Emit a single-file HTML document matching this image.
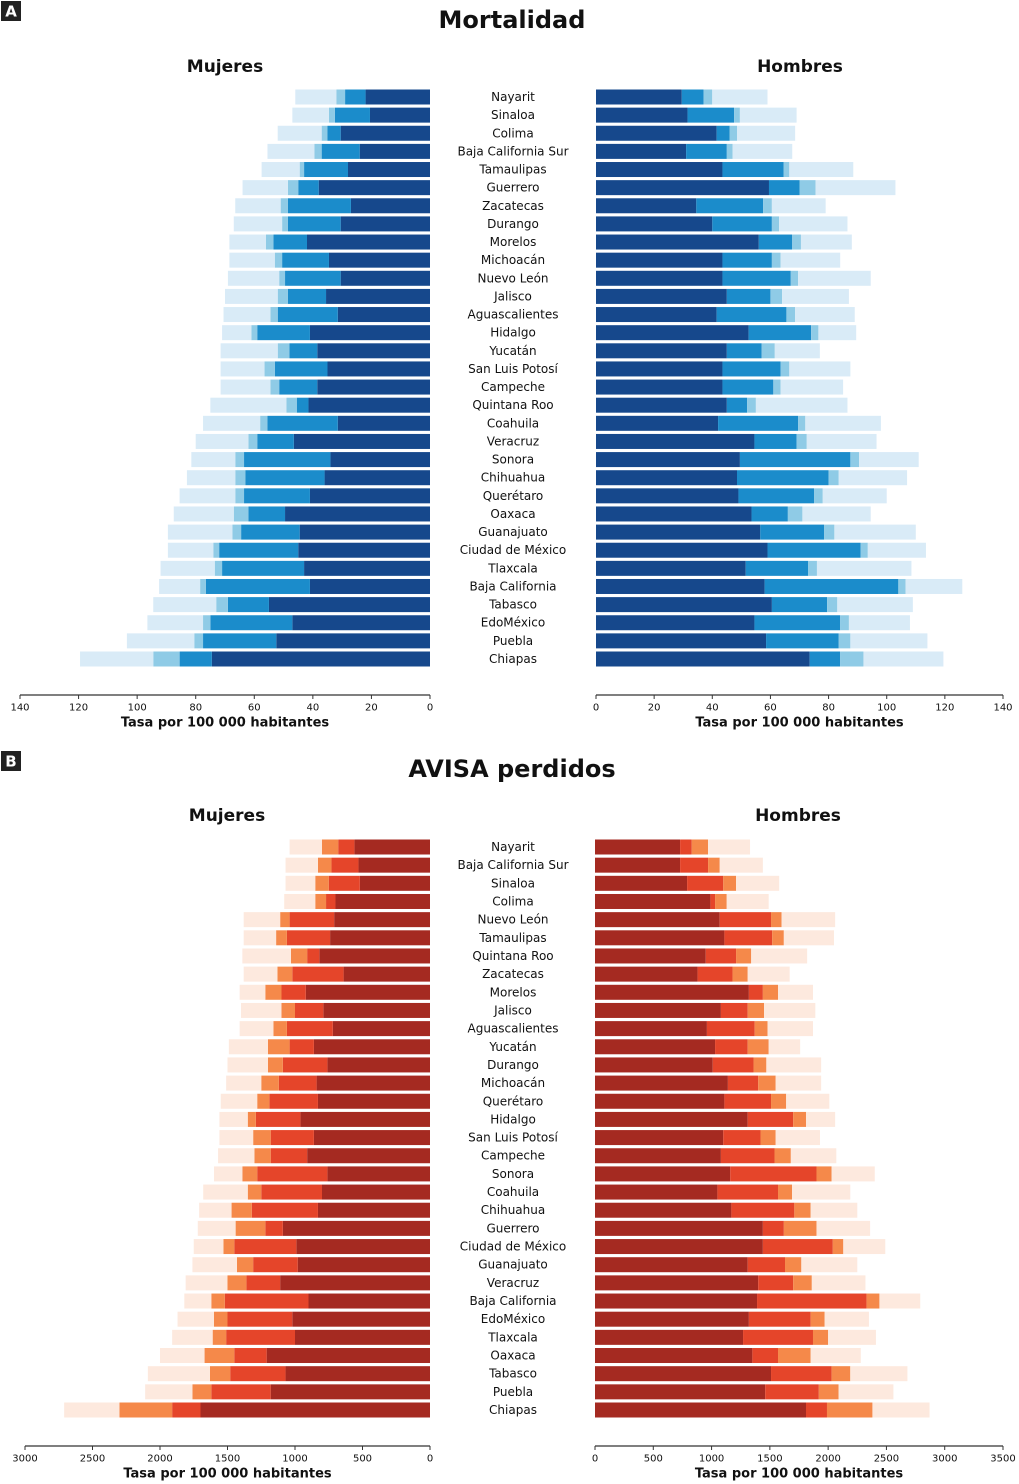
<!DOCTYPE html>
<html><head><meta charset="utf-8"><style>
html,body{margin:0;padding:0;background:#fff;}
svg{display:block;font-family:"DejaVu Sans","Liberation Sans",sans-serif;}
</style></head><body>
<svg id="chart" width="1019" height="1484" viewBox="0 0 1019 1484" xmlns="http://www.w3.org/2000/svg"></svg>
<script>
const statesA = ["Nayarit","Sinaloa","Colima","Baja California Sur","Tamaulipas","Guerrero","Zacatecas","Durango","Morelos","Michoacán","Nuevo León","Jalisco","Aguascalientes","Hidalgo","Yucatán","San Luis Potosí","Campeche","Quintana Roo","Coahuila","Veracruz","Sonora","Chihuahua","Querétaro","Oaxaca","Guanajuato","Ciudad de México","Tlaxcala","Baja California","Tabasco","EdoMéxico","Puebla","Chiapas"];
const mortMujS1 = [22,20.5,30.5,24,28,38,27,30.5,42,34.5,30.5,35.5,31.5,41,38.5,35,38.5,41.5,31.5,46.5,34,36,41,49.5,44.5,45,43,41,55,47,52.5,74.5];
const mortMujS2 = [7,12,4.5,13,15,7,21.5,18,11.5,16,19,13,20.5,18,9.5,18,13,4,24,12.5,29.5,27,22.5,12.5,20,27,28,35.5,14,28,25,11];
const mortMujS3 = [3,2,2,2.5,1.5,3.5,2.5,2,2.5,2.5,2,3.5,2.5,2,4,3.5,3,3.5,2.5,3,3,3.5,3,5,3,2,2.5,2,4,2.5,3,9];
const mortMujS4 = [14,12.5,15,16,13,15.5,15.5,16.5,12.5,15.5,17.5,18,16,10,19.5,15,17,26,19.5,18,15,16.5,19,20.5,22,15.5,18.5,14,21.5,19,23,25];
const mortHomS1 = [29.5,31.5,41.5,31,43.5,59.5,34.5,40,56,43.5,43.5,45,41.5,52.5,45,43.5,43.5,45,42,54.5,49.5,48.5,49,53.5,56.5,59,51.5,58,60.5,54.5,58.5,73.5];
const mortHomS2 = [7.5,16,4.5,14,21,10.5,23,20.5,11.5,17,23.5,15,24,21.5,12,20,17.5,7,27.5,14.5,38,31.5,26,12.5,22,32,21.5,46,19,29.5,25,10.5];
const mortHomS3 = [3,2,2.5,2,2,5.5,3,2.5,3,3,2.5,4,3,2.5,4.5,3,2.5,3,2.5,3.5,3,3.5,3,5,3.5,2.5,3,2.5,3.5,3,4,8];
const mortHomS4 = [19,19.5,20,20.5,22,27.5,18.5,23.5,17.5,20.5,25,23,20.5,13,15.5,21,21.5,31.5,26,24,20.5,23.5,22,23.5,28,20,32.5,19.5,26,21,26.5,27.5];
const ticksA = [0,20,40,60,80,100,120,140];

const statesB = ["Nayarit","Baja California Sur","Sinaloa","Colima","Nuevo León","Tamaulipas","Quintana Roo","Zacatecas","Morelos","Jalisco","Aguascalientes","Yucatán","Durango","Michoacán","Querétaro","Hidalgo","San Luis Potosí","Campeche","Sonora","Coahuila","Chihuahua","Guerrero","Ciudad de México","Guanajuato","Veracruz","Baja California","EdoMéxico","Tlaxcala","Oaxaca","Tabasco","Puebla","Chiapas"];
const avisaMujS1 = [560,530,520,700,710,740,820,640,920,790,720,860,760,840,830,960,860,910,760,800,830,1090,990,980,1110,900,1020,1000,1210,1070,1180,1700];
const avisaMujS2 = [120,200,230,70,330,320,90,380,180,210,340,180,330,280,360,330,320,270,520,450,490,130,460,330,250,620,480,510,240,410,440,210];
const avisaMujS3 = [120,100,100,80,70,80,120,110,120,100,100,160,110,130,90,60,130,120,110,100,150,220,80,120,140,100,100,100,220,150,140,390];
const avisaMujS4 = [240,240,220,230,270,240,360,250,190,300,250,290,300,260,270,210,250,270,210,330,240,280,220,330,310,200,270,300,330,460,350,410];
const avisaHomS1 = [730,730,790,990,1070,1110,950,880,1320,1080,960,1030,1010,1140,1110,1310,1100,1080,1160,1050,1170,1440,1440,1310,1400,1390,1320,1270,1350,1510,1460,1810];
const avisaHomS2 = [100,240,310,40,440,410,260,300,120,230,410,280,350,260,400,390,320,460,740,520,540,180,600,320,300,940,530,600,220,520,460,180];
const avisaHomS3 = [140,100,110,100,90,100,130,130,130,140,110,180,110,150,130,110,130,140,130,120,140,280,90,140,160,110,120,130,280,160,170,390];
const avisaHomS4 = [360,370,370,360,460,430,480,360,300,440,390,270,470,390,370,250,380,390,370,500,400,460,360,480,460,350,380,410,430,490,470,490];
const ticksBL = [0,500,1000,1500,2000,2500,3000];
const ticksBR = [0,500,1000,1500,2000,2500,3000,3500];

const NS = "http://www.w3.org/2000/svg";
const svg = document.getElementById("chart");
function mk(tag, attrs, parent){
  const e = document.createElementNS(NS, tag);
  for (const k in attrs) e.setAttribute(k, attrs[k]);
  (parent||svg).appendChild(e);
  return e;
}
function txt(x,y,s,size,weight,anchor,parent){
  const t = mk("text",{x:x,y:y,"font-size":size,"font-weight":weight,"text-anchor":anchor,"dominant-baseline":"central",fill:"#111"},parent);
  t.textContent = s;
  return t;
}

function panelLetter(y, letter){
  const g = mk("g",{});
  
  
  mk("rect",{x:1,y:y,width:20,height:20,fill:"#222"},g);
  const t = txt(11,y+10.5,letter,15,"bold","middle",g);
  t.setAttribute("fill","#fff");
}

function drawSide(cfg){
  const g = mk("g",{});
  
  
  const scale = v => cfg.dir > 0 ? cfg.x0 + (v / cfg.max) * cfg.w : cfg.x0 - (v / cfg.max) * cfg.w;
  const step = (cfg.yLast - cfg.yFirst) / (cfg.states.length - 1);
  const bh = 15;
  cfg.states.forEach((s, i) => {
    let cum = 0;
    const yc = cfg.yFirst + i * step;
    cfg.series.forEach((arr, k) => {
      const a = scale(cum), b = scale(cum + arr[i]);
      const r = mk("rect",{x:Math.min(a,b),y:yc-bh/2,width:Math.abs(b-a),height:bh,fill:cfg.colors[k]},g);
      
      
      cum += arr[i];
    });
  });
  const ax = mk("g",{}, g);
  
  
  const xEnd = scale(cfg.max);
  mk("line",{x1:Math.min(cfg.x0,xEnd),x2:Math.max(cfg.x0,xEnd),y1:cfg.axisY,y2:cfg.axisY,stroke:"#333","stroke-width":1.2},ax);
  cfg.ticks.forEach(t => {
    const x = scale(t);
    mk("line",{x1:x,x2:x,y1:cfg.axisY,y2:cfg.axisY+4,stroke:"#333","stroke-width":1},ax);
    const lb = txt(x,cfg.axisY+13,String(t),10,"normal","middle",ax);
    
    
  });
  const at = txt((cfg.x0+xEnd)/2, cfg.axisY+28, "Tasa por 100 000 habitantes", 13, "bold", "middle", ax);
  
  
  const st = txt(cfg.titleX, cfg.titleY, cfg.title, 17, "bold", "middle", g);
  
  
}

function drawLabels(states, yFirst, yLast, name){
  const g = mk("g",{});
  
  
  const step = (yLast - yFirst) / (states.length - 1);
  states.forEach((s,i) => {
    const t = txt(513, yFirst + i*step, s, 12, "normal", "middle", g);
    
    
  });
}

const blues = ["#16488c","#1b8ccb","#8fcbe6","#d9ebf7"];
const reds = ["#a52a21","#e5452a","#f5894a","#fde9de"];

panelLetter(1,"A");
let tA = txt(512,20,"Mortalidad",24,"bold","middle");
 
drawSide({name:"mortalidad-mujeres",x0:430,w:410,max:140,dir:-1,states:statesA,yFirst:97,yLast:659,series:[mortMujS1,mortMujS2,mortMujS3,mortMujS4],colors:blues,axisY:695,ticks:ticksA,title:"Mujeres",titleX:225,titleY:67});
drawSide({name:"mortalidad-hombres",x0:596,w:407,max:140,dir:1,states:statesA,yFirst:97,yLast:659,series:[mortHomS1,mortHomS2,mortHomS3,mortHomS4],colors:blues,axisY:695,ticks:ticksA,title:"Hombres",titleX:800,titleY:67});
drawLabels(statesA,97,659,"state-labels-a");

panelLetter(751,"B");
let tB = txt(512,769,"AVISA perdidos",24,"bold","middle");
 
drawSide({name:"avisa-mujeres",x0:430,w:405,max:3000,dir:-1,states:statesB,yFirst:847,yLast:1410,series:[avisaMujS1,avisaMujS2,avisaMujS3,avisaMujS4],colors:reds,axisY:1446,ticks:ticksBL,title:"Mujeres",titleX:227,titleY:816});
drawSide({name:"avisa-hombres",x0:595,w:408,max:3500,dir:1,states:statesB,yFirst:847,yLast:1410,series:[avisaHomS1,avisaHomS2,avisaHomS3,avisaHomS4],colors:reds,axisY:1446,ticks:ticksBR,title:"Hombres",titleX:798,titleY:816});
drawLabels(statesB,847,1410,"state-labels-b");
</script>
</body></html>
